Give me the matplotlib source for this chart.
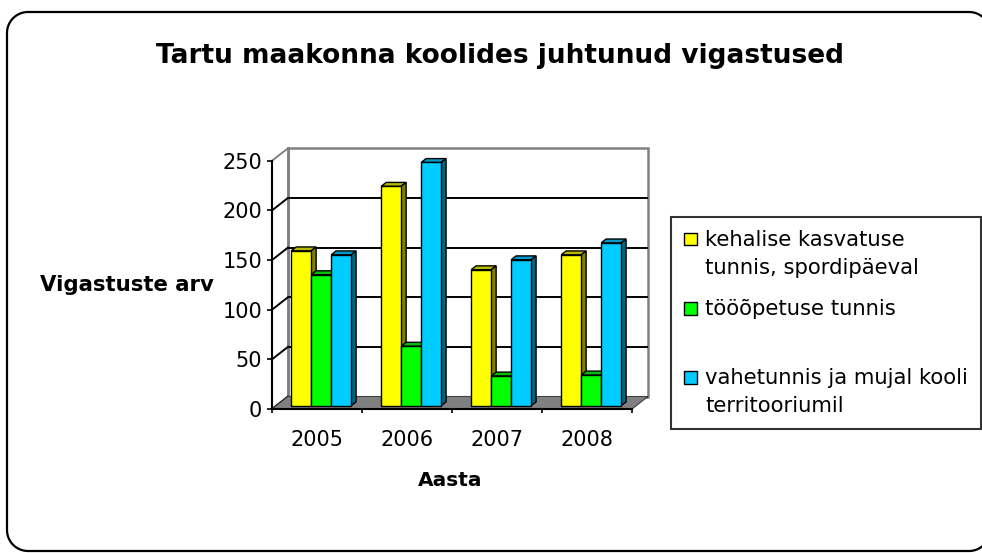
import numpy as np
import matplotlib
matplotlib.use("Agg")
import matplotlib.pyplot as plt
from matplotlib.patches import Polygon, Rectangle
from matplotlib.lines import Line2D
from matplotlib.legend_handler import HandlerPatch
from matplotlib.transforms import IdentityTransform

# ---------------- data ----------------
years = ["2005", "2006", "2007", "2008"]
kehaline = [156, 221, 137, 152]
tooopetus = [132, 60, 30, 31]
vahetund = [152, 245, 147, 164]
series_labels = ["kehalise kasvatuse\ntunnis, spordipäeval",
                 "tööõpetuse tunnis\n ",
                 "vahetunnis ja mujal kooli\nterritooriumil"]
yticks = [0, 50, 100, 150, 200, 250]
title = "Tartu maakonna koolides juhtunud vigastused"
xlabel = "Aasta"
ylabel = "Vigastuste arv"

# ---------------- styles ----------------
front_colors = ["#FFFF00", "#00FF00", "#00CCFF"]
top_colors = ["#B8B800", "#00C000", "#0099CC"]
side_colors = ["#808000", "#008000", "#006680"]

W, H = 982, 553
fig = plt.figure(figsize=(W / 100, H / 100), dpi=100)
plt.rcParams["font.family"] = ["DejaVu Sans"]

# layout (pixels)
px_x = 90.0      # pixels per category
px_y = 0.993     # pixels per unit
DX = 16 / px_x
DY = 12.5 / px_y
ox, oy = 272, 409
xmin, xmax = -0.5, 3.5 + DX
ymax_v = 250
ymin, ymax = 0, ymax_v + DY
ax_wpx = (xmax - xmin) * px_x
ax_hpx = (ymax - ymin) * px_y
ax = fig.add_axes([ox / W, (H - oy) / H, ax_wpx / W, ax_hpx / H])
ax.set_xlim(xmin, xmax)
ax.set_ylim(ymin, ymax)
ax.patch.set_visible(False)

gray = "#808080"
# back wall
ax.add_patch(Rectangle((-0.5 + DX, DY), 4, ymax_v, facecolor="white",
                       edgecolor=gray, lw=1.8, zorder=1, clip_on=False))
# gridlines on back wall + left wall diagonals
for v in yticks:
    c = gray if v == ymax_v else "black"
    if v < ymax_v:
        ax.plot([-0.5 + DX, 3.5 + DX], [v + DY, v + DY], color=c, lw=1.4,
                zorder=2, solid_capstyle="butt")
    ax.plot([-0.5, -0.5 + DX], [v, v + DY], color=c, lw=1.4, zorder=2,
            clip_on=False)
# left wall back edge
ax.plot([-0.5 + DX, -0.5 + DX], [DY, ymax_v + DY], color=gray, lw=1.8,
        zorder=1.5, clip_on=False)
# floor
ax.add_patch(Polygon([(-0.5, 0), (3.5, 0), (3.5 + DX, DY), (-0.5 + DX, DY)],
                     closed=True, facecolor=gray, edgecolor="#404040",
                     lw=0.8, zorder=3, clip_on=False))

# bars
x = np.arange(len(years))
w = 0.222
fx, fy = 0.26 * DX, 0.26 * DY
bx, by = 0.31 * DX, 0.31 * DY
series = [kehaline, tooopetus, vahetund]
handles = []
for k, vals in enumerate(series):
    pos = x + fx + (k - 1) * w
    z = 5 + k * 0.2
    ax.bar(pos, vals, width=w, bottom=fy, color=front_colors[k],
           edgecolor="black", lw=1.0, zorder=z)
    for p, v in zip(pos, vals):
        x0, x1 = p - w / 2, p + w / 2
        y0, y1 = fy, fy + v
        ax.add_patch(Polygon([(x0, y1), (x1, y1), (x1 + bx, y1 + by),
                              (x0 + bx, y1 + by)], closed=True,
                             facecolor=top_colors[k], edgecolor="black",
                             lw=1.0, zorder=z - 0.1))
        ax.add_patch(Polygon([(x1, y0), (x1 + bx, y0 + by),
                              (x1 + bx, y1 + by), (x1, y1)], closed=True,
                             facecolor=side_colors[k], edgecolor="black",
                             lw=1.0, zorder=z - 0.1))
    handles.append(Rectangle((0, 0), 1, 1, facecolor=front_colors[k],
                             edgecolor="black", lw=1.0))

# axes / spines
for s in ["top", "right"]:
    ax.spines[s].set_visible(False)
ax.spines["left"].set_bounds(0, ymax_v)
ax.spines["bottom"].set_bounds(-0.5, 3.5)
for s in ["left", "bottom"]:
    ax.spines[s].set_linewidth(1.5)
    ax.spines[s].set_zorder(10)
ax.set_yticks(yticks)
ax.set_yticklabels([str(v) for v in yticks])
ax.set_xticks(np.arange(-0.5, 4.0, 1.0))
ax.set_xticklabels([""] * 5)
ax.set_xticks(x, minor=True)
ax.set_xticklabels(years, minor=True)
ax.tick_params(axis="y", which="major", length=3.6, width=1.2, pad=3.6,
               labelsize=15, direction="out")
ax.tick_params(axis="x", which="major", length=2.9, width=1.2,
               direction="out")
ax.tick_params(axis="x", which="minor", length=0, pad=15, labelsize=15)

ax.set_ylabel(ylabel, rotation=0, fontsize=15.3, fontweight="bold",
              ha="center", va="center")
ax.yaxis.set_label_coords((127 - ox) / ax_wpx, (oy - 285) / ax_hpx)
ax.set_xlabel(xlabel, fontsize=14.5, fontweight="bold", ha="center",
              va="center")
ax.xaxis.set_label_coords((450 - ox) / ax_wpx, (oy - 481) / ax_hpx)

fig.text(500 / W, 1 - 63 / H, title, ha="center", va="baseline",
         fontsize=19, fontweight="bold")


# legend
class SquareHandler(HandlerPatch):
    def create_artists(self, legend, orig_handle, xdescent, ydescent,
                       width, height, fontsize, trans):
        s = 0.6 * fontsize
        cy = (height - ydescent) / 2.0
        p = Rectangle((-xdescent + (width - s) / 2.0, cy - s / 2.0), s, s)
        self.update_prop(p, orig_handle, legend)
        p.set_transform(trans)
        return [p]


leg = fig.legend(handles, series_labels, loc="upper left",
                 bbox_to_anchor=(671 / W, 1 - 217 / H),
                 bbox_transform=fig.transFigure, borderaxespad=0,
                 fontsize=15.2, frameon=True, fancybox=False,
                 handler_map={Rectangle: SquareHandler()},
                 handlelength=0.6, handleheight=1.2, handletextpad=0.4,
                 labelspacing=1.0, borderpad=0.62)
leg.get_frame().set_edgecolor("black")
leg.get_frame().set_linewidth(1.5)
for t in leg.get_texts():
    t.set_linespacing(1.5)
for col in leg._legend_handle_box.get_children():
    for row in col.get_children():
        row.align = "top"

# outer rounded frame (pixel coords, image y measured from the top)
left_px, top_px, bot_px, right_px, r = 7, 12, 551, 990, 21
th_end = np.degrees(np.arccos((W - (right_px - r)) / r))
segs = []
a = np.radians(np.linspace(th_end, 90, 20))
segs.append(np.c_[right_px - r + r * np.cos(a), top_px + r - r * np.sin(a)])
a = np.radians(np.linspace(90, 180, 20))
segs.append(np.c_[left_px + r + r * np.cos(a), top_px + r - r * np.sin(a)])
a = np.radians(np.linspace(180, 270, 20))
segs.append(np.c_[left_px + r + r * np.cos(a), bot_px - r - r * np.sin(a)])
a = np.radians(np.linspace(270, 360 - th_end, 20))
segs.append(np.c_[right_px - r + r * np.cos(a), bot_px - r - r * np.sin(a)])
pts = np.vstack(segs)
fig.add_artist(Line2D(pts[:, 0], H - pts[:, 1], transform=IdentityTransform(),
                      color="black", lw=1.6, solid_joinstyle="round"))

fig.savefig("out.png", dpi=100)
